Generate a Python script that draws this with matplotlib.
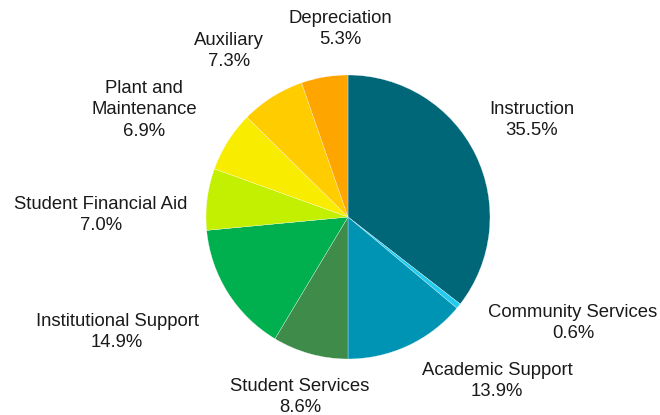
import matplotlib.pyplot as plt

plt.rcParams['font.family'] = ['Liberation Sans', 'DejaVu Sans']

# expense categories, clockwise from 12 o'clock
categories = ['Instruction', 'Community Services', 'Academic Support', 'Student Services',
              'Institutional Support', 'Student Financial Aid', 'Plant and\nMaintenance',
              'Auxiliary', 'Depreciation']
shares = [35.5, 0.6, 13.9, 8.6, 14.9, 7.0, 6.9, 7.3, 5.3]

colors = ['#006778', '#22CCF0', '#0094B4', '#3E8B4A', '#00B04F',
          '#C3F000', '#F8EC00', '#FFCC00', '#FFA500']

# label centres in pixel units (figure is 660x415, y counted from the top)
label_pos = [(532, 120), (573, 323), (497, 381), (300, 397), (117, 332),
             (101, 215), (144, 110), (229, 51), (340, 29)]

W, H = 660, 415
fig = plt.figure(figsize=(W / 100, H / 100), dpi=100)
ax = fig.add_axes([0, 0, 1, 1])

ax.pie(shares, colors=colors, startangle=90, counterclock=False,
       center=(348, H - 217), radius=142, frame=True,
       wedgeprops=dict(edgecolor='white', linewidth=0.2))
ax.set_xlim(0, W)
ax.set_ylim(0, H)
ax.set_aspect('equal')
ax.axis('off')

for name, val, (x, y) in zip(categories, shares, label_pos):
    ax.text(x, H - y, f'{name}\n{val:.1f}%', ha='center', va='center',
            fontsize=13.3, color='#1a1a1a', linespacing=1.33)

fig.savefig('out.png', dpi=100)
